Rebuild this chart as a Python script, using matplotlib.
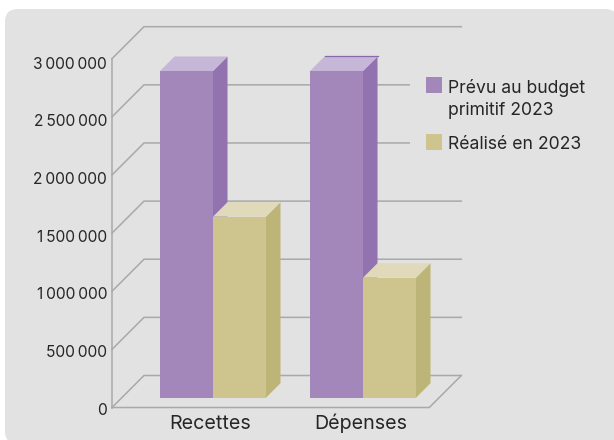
"""Budget 2023 : prevu / realise, faux histogramme 3D
"""
import matplotlib
matplotlib.use('Agg')
import matplotlib.pyplot as plt
from matplotlib.patches import Polygon, Rectangle, FancyBboxPatch
from matplotlib.transforms import Affine2D

plt.rcParams['font.family'] = ['Inter', 'DejaVu Sans']

categories = ['Recettes', 'Dépenses']
prevu = [2810000, 2810000]
realise = [1557000, 1032000]
ticks = [0, 500000, 1000000, 1500000, 2000000, 2500000, 3000000]
tick_labels = ['0', '500\u2009000', '1\u2009000\u2009000', '1\u2009500\u2009000',
               '2\u2009000\u2009000', '2\u2009500\u2009000', '3\u2009000\u2009000']
legend_labels = ['Prévu au budget\nprimitif 2023', 'Réalisé en 2023']

W, H = 614, 440
BG = '#e2e2e2'
GRID = '#a9a9a9'
TEXT = '#262626'
PURPLE = ('#a387ba', '#c6b7d8', '#9373af')
YELLOW = ('#cdc48e', '#e0dabb', '#bdb477')

# front of the plot box, in pixels
x0, x1, y0, y1 = 112, 429.3, 407.5, 58.7
DEPTH = 32.0   # px, both directions
ppx = 150.0    # px per category
ppy = (y0 - y1) / 3000000.0
bar_w = 53.0 / ppx
z_front, z_back = 0.306, 0.76


def proj(x, y, z):
    # fake oblique projection, z=0 front z=1 back wall
    return (x + z * DEPTH / ppx, y + z * DEPTH / ppy)


def bar3d(ax, x, val, cols, zo):
    xa, xb = x, x + bar_w
    ax.add_patch(Polygon([proj(xb, 0, z_front), proj(xb, 0, z_back), proj(xb, val, z_back), proj(xb, val, z_front)],
                         fc=cols[2], ec='none', zorder=zo, clip_on=False))
    ax.add_patch(Polygon([proj(xa, val, z_front), proj(xb, val, z_front), proj(xb, val, z_back), proj(xa, val, z_back)],
                         fc=cols[1], ec='none', zorder=zo, clip_on=False))
    ax.add_patch(Polygon([proj(xa, 0, z_front), proj(xb, 0, z_front), proj(xb, val, z_front), proj(xa, val, z_front)],
                         fc=cols[0], ec='none', zorder=zo + 0.1, clip_on=False))


fig = plt.figure(figsize=(W / 100.0, H / 100.0), dpi=100, facecolor='white')

# rounded panel behind everything, runs off the right and bottom edges
fig.patches.append(FancyBboxPatch((5 / W, (H - 444) / H), 613 / W, 435 / H,
                                  boxstyle='round,pad=0,rounding_size=0.021', mutation_aspect=W / H,
                                  transform=fig.transFigure, fc=BG, ec='none', zorder=-5))

ax = fig.add_axes([x0 / W, (H - y0) / H, (x1 - x0) / W, (y0 - y1) / H])
ax.patch.set_visible(False)
for s in ax.spines.values():
    s.set_visible(False)
ax.set_xlim((x0 - 203.2) / ppx, (x1 - 203.2) / ppx)
ax.set_ylim(0, 3000000)

xc_end = ax.get_xlim()
for t in ticks:
    # left wall diagonal + back wall line
    a = proj(xc_end[0], t, 0)
    b = proj(xc_end[0], t, 1)
    c = proj(xc_end[1], t, 1)
    ax.plot([a[0], b[0], c[0]], [a[1], b[1], c[1]], color=GRID, lw=1.1, zorder=1, clip_on=False,
            solid_joinstyle='miter')
# axis + floor
a = proj(xc_end[1], 0, 0)
b = proj(xc_end[1], 0, 1)
ax.plot([xc_end[0], xc_end[0]], [0, 3000000], color=GRID, lw=1.1, zorder=1, clip_on=False)
ax.plot([xc_end[0], a[0], b[0]], [0, 0, b[1]], color=GRID, lw=1.1, zorder=1, clip_on=False)

for i in range(len(categories)):
    bar3d(ax, i - bar_w, prevu[i], PURPLE, 3)
    bar3d(ax, i, realise[i], YELLOW, 4)

# thin dark edge along the back of the second top face
e1 = proj(1 - bar_w, prevu[1], z_back)
e2 = proj(1, prevu[1], z_back)
ax.plot([e1[0], e2[0]], [e1[1], e2[1]], color='#8a69ab', lw=0.9, zorder=3.2, clip_on=False)

ax.set_yticks(ticks)
ax.set_yticklabels(tick_labels, fontsize=11.2, color=TEXT)
ax.set_xticks([0.046, 1.053])
ax.set_xticklabels(categories, fontsize=14.2, color=TEXT, va='baseline')
ax.tick_params(axis='both', length=0)
ax.tick_params(axis='y', pad=3.5)
ax.tick_params(axis='x', pad=15.5)
# labels sit a little closer together than the ticks
for i, lab in enumerate(ax.get_yticklabels()):
    lab.set_transform(lab.get_transform() + Affine2D().translate(0, -1 - 0.5 * i))

# legend box hides the grid behind it
fig.patches.append(Rectangle((410 / W, (H - 170) / H), 187 / W, 110 / H, transform=fig.transFigure,
                             fc=BG, ec='none', zorder=5))
for lab, col, ytop in zip(legend_labels, [PURPLE[0], YELLOW[0]], [77, 134]):
    fig.patches.append(Rectangle((426 / W, (H - ytop - 16) / H), 16 / W, 16 / H, transform=fig.transFigure,
                                 fc=col, ec='none', zorder=6))
    fig.text(448 / W, (H - ytop - 2) / H, lab, fontsize=12.65, color=TEXT, va='top', ha='left',
             linespacing=1.35, zorder=7)

fig.savefig('out.png', dpi=100)
